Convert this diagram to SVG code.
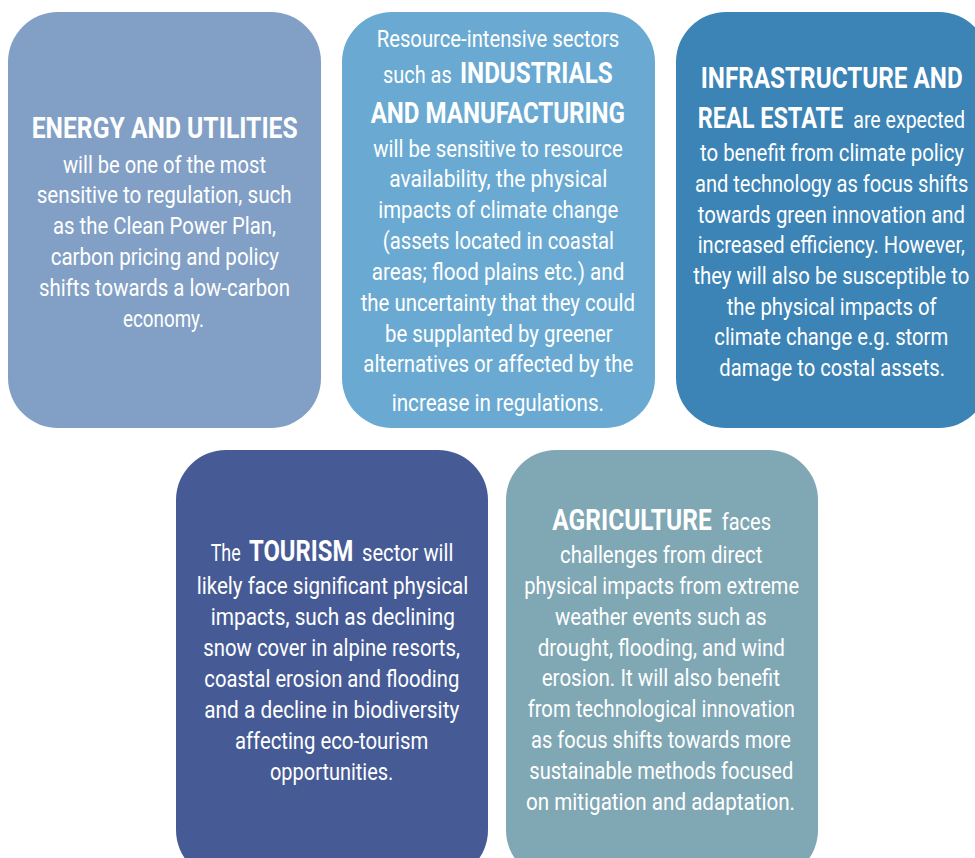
<svg xmlns="http://www.w3.org/2000/svg" width="975" height="858" viewBox="0 0 975 858">
<style>
.t{font-family:Roboto,"Liberation Sans",sans-serif;fill:#ffffff}
.b{font-size:24px;font-weight:400}
.h{font-size:29px;font-weight:700}
</style>
<rect width="975" height="858" fill="#ffffff"/>
<g id="connectors"></g>
<g id="energy">
<rect x="8" y="12" width="313" height="416" rx="50" ry="50" fill="#82a0c5"/>
<g transform="scale(0.8,1)">
<text class="t h" x="39.625" y="138" textLength="332.5" lengthAdjust="spacingAndGlyphs">ENERGY AND UTILITIES</text>
<text class="t b" x="78.75" y="172.6" textLength="253.75" lengthAdjust="spacingAndGlyphs">will be one of the most</text>
<text class="t b" x="45.875" y="203.4" textLength="318.75" lengthAdjust="spacingAndGlyphs">sensitive to regulation, such</text>
<text class="t b" x="66.25" y="234.2" textLength="278.75" lengthAdjust="spacingAndGlyphs">as the Clean Power Plan,</text>
<text class="t b" x="63.375" y="265" textLength="285.375" lengthAdjust="spacingAndGlyphs">carbon pricing and policy</text>
<text class="t b" x="48.75" y="295.8" textLength="313.75" lengthAdjust="spacingAndGlyphs">shifts towards a low-carbon</text>
<text class="t b" x="153.75" y="326.6" textLength="101.25" lengthAdjust="spacingAndGlyphs">economy.</text>
</g>
</g>
<g id="industrials">
<rect x="342" y="12" width="313" height="416" rx="50" ry="50" fill="#6aaad2"/>
<g transform="scale(0.8,1)">
<text class="t b" x="470.875" y="46.7" textLength="303.25" lengthAdjust="spacingAndGlyphs">Resource-intensive sectors</text>
<text class="t b" y="83.3"><tspan x="478.75" textLength="85.875" lengthAdjust="spacingAndGlyphs">such as</tspan><tspan class="h" x="575" textLength="190.875" lengthAdjust="spacingAndGlyphs">INDUSTRIALS</tspan></text>
<text class="t h" x="463.375" y="122.7" textLength="317.875" lengthAdjust="spacingAndGlyphs">AND MANUFACTURING</text>
<text class="t b" x="466.625" y="156.7" textLength="311.75" lengthAdjust="spacingAndGlyphs">will be sensitive to resource</text>
<text class="t b" x="486.625" y="187.5" textLength="272.5" lengthAdjust="spacingAndGlyphs">availability, the physical</text>
<text class="t b" x="472.875" y="218.3" textLength="300" lengthAdjust="spacingAndGlyphs">impacts of climate change</text>
<text class="t b" x="478.375" y="249.2" textLength="289.125" lengthAdjust="spacingAndGlyphs">(assets located in coastal</text>
<text class="t b" x="464.625" y="280" textLength="315.75" lengthAdjust="spacingAndGlyphs">areas; flood plains etc.) and</text>
<text class="t b" x="450.875" y="310.8" textLength="342.875" lengthAdjust="spacingAndGlyphs">the uncertainty that they could</text>
<text class="t b" x="481.25" y="341.6" textLength="284.625" lengthAdjust="spacingAndGlyphs">be supplanted by greener</text>
<text class="t b" x="454.125" y="372.4" textLength="337.5" lengthAdjust="spacingAndGlyphs">alternatives or affected by the</text>
<text class="t b" x="489.625" y="410.7" textLength="265.375" lengthAdjust="spacingAndGlyphs">increase in regulations.</text>
</g>
</g>
<g id="infrastructure">
<rect x="676" y="12" width="313" height="416" rx="50" ry="50" fill="#3c83b6"/>
<g transform="scale(0.8,1)">
<text class="t h" x="875.875" y="88.3" textLength="327.5" lengthAdjust="spacingAndGlyphs">INFRASTRUCTURE AND</text>
<text class="t b" y="128.3"><tspan class="h" x="872.125" textLength="182" lengthAdjust="spacingAndGlyphs">REAL ESTATE</tspan><tspan x="1066.625" textLength="139.625" lengthAdjust="spacingAndGlyphs">are expected</tspan></text>
<text class="t b" x="875" y="161.3" textLength="330" lengthAdjust="spacingAndGlyphs">to benefit from climate policy</text>
<text class="t b" x="868.75" y="192" textLength="341.625" lengthAdjust="spacingAndGlyphs">and technology as focus shifts</text>
<text class="t b" x="872.125" y="222.7" textLength="334.125" lengthAdjust="spacingAndGlyphs">towards green innovation and</text>
<text class="t b" x="872.125" y="253.4" textLength="334.125" lengthAdjust="spacingAndGlyphs">increased efficiency. However,</text>
<text class="t b" x="866.625" y="284.1" textLength="345" lengthAdjust="spacingAndGlyphs">they will also be susceptible to</text>
<text class="t b" x="908.375" y="314.8" textLength="262.5" lengthAdjust="spacingAndGlyphs">the physical impacts of</text>
<text class="t b" x="892.875" y="345.5" textLength="292.5" lengthAdjust="spacingAndGlyphs">climate change e.g. storm</text>
<text class="t b" x="899.125" y="376.2" textLength="282.125" lengthAdjust="spacingAndGlyphs">damage to costal assets.</text>
</g>
</g>
<g id="tourism">
<rect x="176" y="450" width="312" height="430" rx="50" ry="50" fill="#465b96"/>
<g transform="scale(0.8,1)">
<text class="t b" y="560.7"><tspan x="263.375" textLength="37.5" lengthAdjust="spacingAndGlyphs">The</tspan><tspan class="h" x="311.25" textLength="130.375" lengthAdjust="spacingAndGlyphs">TOURISM</tspan><tspan x="452.5" textLength="114.125" lengthAdjust="spacingAndGlyphs">sector will</tspan></text>
<text class="t b" x="245.875" y="594.5" textLength="339.5" lengthAdjust="spacingAndGlyphs">likely face significant physical</text>
<text class="t b" x="263.375" y="625.5" textLength="305.375" lengthAdjust="spacingAndGlyphs">impacts, such as declining</text>
<text class="t b" x="254.125" y="656.5" textLength="320.875" lengthAdjust="spacingAndGlyphs">snow cover in alpine resorts,</text>
<text class="t b" x="255.375" y="687.5" textLength="318.75" lengthAdjust="spacingAndGlyphs">coastal erosion and flooding</text>
<text class="t b" x="255.375" y="718.3" textLength="318.75" lengthAdjust="spacingAndGlyphs">and a decline in biodiversity</text>
<text class="t b" x="293.75" y="749.1" textLength="241.625" lengthAdjust="spacingAndGlyphs">affecting eco-tourism</text>
<text class="t b" x="337.5" y="780" textLength="154.125" lengthAdjust="spacingAndGlyphs">opportunities.</text>
</g>
</g>
<g id="agriculture">
<rect x="506" y="450" width="312" height="430" rx="50" ry="50" fill="#7fa7b4"/>
<g transform="scale(0.8,1)">
<text class="t b" y="530"><tspan class="h" x="690.375" textLength="199.25" lengthAdjust="spacingAndGlyphs">AGRICULTURE</tspan><tspan x="902.125" textLength="61.625" lengthAdjust="spacingAndGlyphs">faces</tspan></text>
<text class="t b" x="700" y="563" textLength="252.875" lengthAdjust="spacingAndGlyphs">challenges from direct</text>
<text class="t b" x="655.375" y="593.8" textLength="343.375" lengthAdjust="spacingAndGlyphs">physical impacts from extreme</text>
<text class="t b" x="693.75" y="624.7" textLength="264.625" lengthAdjust="spacingAndGlyphs">weather events such as</text>
<text class="t b" x="672.125" y="655.6" textLength="309.125" lengthAdjust="spacingAndGlyphs">drought, flooding, and wind</text>
<text class="t b" x="677.125" y="686.5" textLength="297.875" lengthAdjust="spacingAndGlyphs">erosion. It will also benefit</text>
<text class="t b" x="659.625" y="717.4" textLength="334.125" lengthAdjust="spacingAndGlyphs">from technological innovation</text>
<text class="t b" x="663.75" y="748.3" textLength="325" lengthAdjust="spacingAndGlyphs">as focus shifts towards more</text>
<text class="t b" x="661.625" y="779.2" textLength="330" lengthAdjust="spacingAndGlyphs">sustainable methods focused</text>
<text class="t b" x="657.5" y="810" textLength="336.25" lengthAdjust="spacingAndGlyphs">on mitigation and adaptation.</text>
</g>
</g>
</svg>
